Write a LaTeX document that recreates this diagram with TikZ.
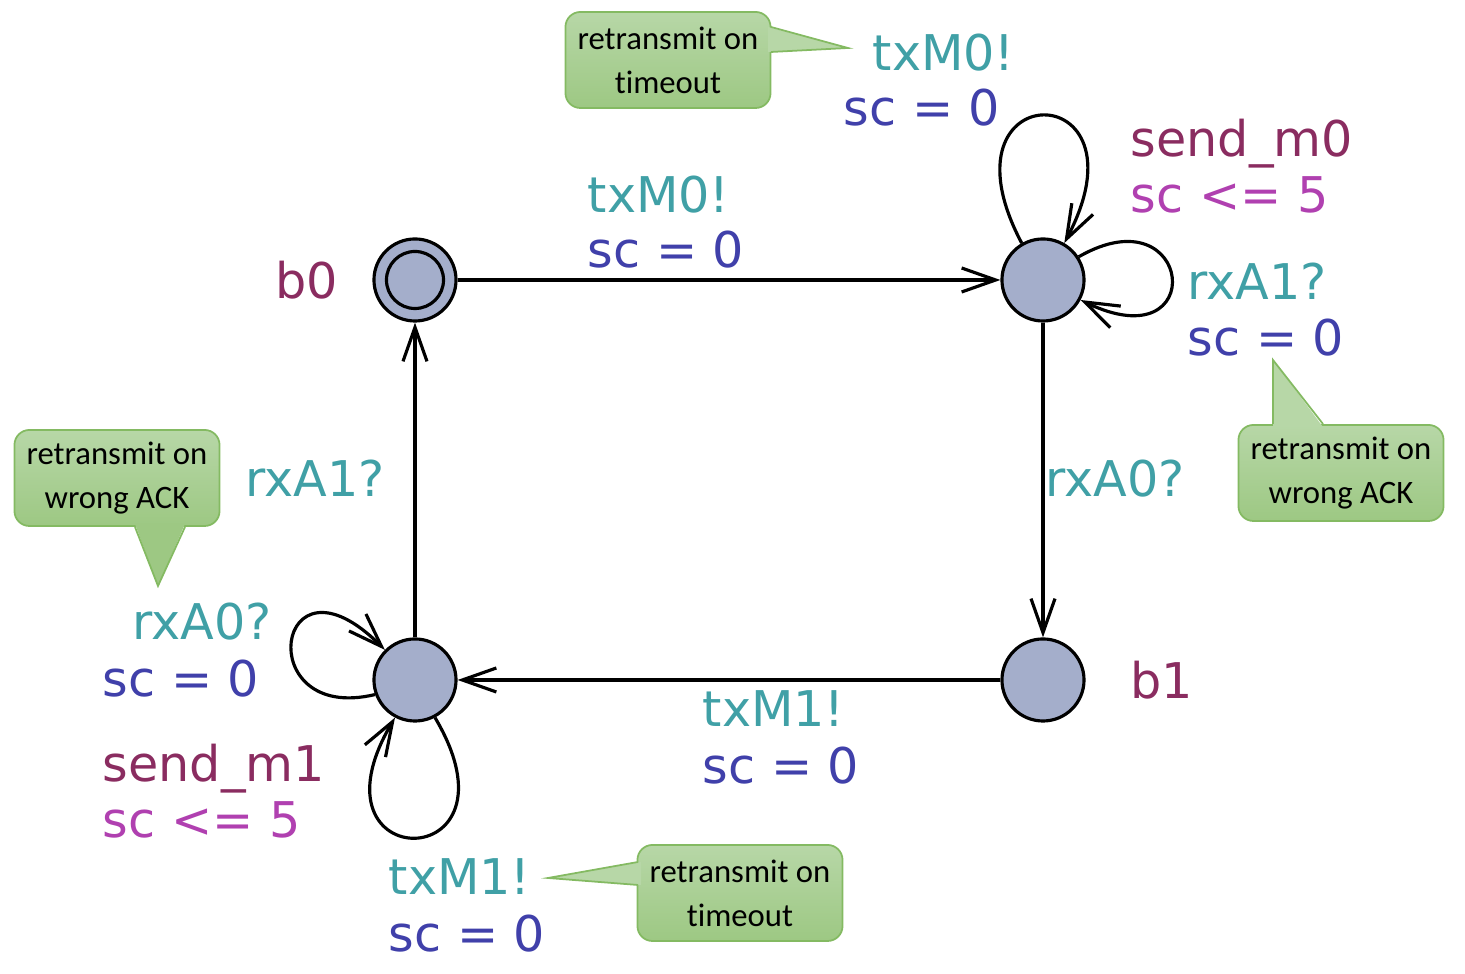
\documentclass[tikz,border=0pt]{standalone}
\usepackage{fontspec}
\setmainfont{DejaVu Sans}
\newfontfamily\notefont[Ligatures=NoCommon]{Carlito}
\usetikzlibrary{positioning,calc}
\usetikzlibrary{arrows.meta,arrows}
\definecolor{locfill}{RGB}{164,174,203}
\definecolor{syncclr}{RGB}{64,160,166}
\definecolor{assignclr}{RGB}{64,64,170}
\definecolor{nameclr}{RGB}{138,44,96}
\definecolor{invclr}{RGB}{176,64,176}
\definecolor{notetop}{RGB}{183,215,167}
\definecolor{notebot}{RGB}{157,200,131}
\definecolor{noteline}{RGB}{132,186,98}
\tikzset{%
  % Specifications for style of nodes:
    >={Straight Barb[length=3.4mm,width=2.4mm]},
    loc/.style={circle, draw, line width=0.9pt, fill=locfill, minimum size=8.2mm, inner sep=0},
    edge/.style={->, line width=0.9pt},
    lbl/.style={font=\fontsize{14}{16}\selectfont, inner sep=0, anchor=base west},
    sync/.style={lbl, text=syncclr},
    assign/.style={lbl, text=assignclr},
    locname/.style={lbl, text=nameclr},
    inv/.style={lbl, text=invclr},
    note/.style={rounded corners=1.5mm, draw=noteline, line width=0.5pt, top color=notetop, bottom color=notebot,
      minimum width=20.5mm, minimum height=9.6mm, inner sep=0, align=center,
      font=\notefont\fontsize{9.3}{12.5}\selectfont},
    notetip/.style={fill=notetop},
    noteedge/.style={draw=noteline, line width=0.5pt},
}
\begin{document}
\begin{tikzpicture}[x=0.01cm, y=-0.01cm]
    \useasboundingbox (0,0) rectangle (1465,974);
    % locations
    \node[loc] (b0) at (415,280) {};
    \node[loc] (waitA0) at (1043,280) {};
    \node[loc] (b1) at (1043,680) {};
    \node[loc] (waitA1) at (415,680) {};
    \draw[line width=0.9pt] (b0.center) circle[radius=2.85mm];
    % transitions
    \draw[edge] (b0) -- (waitA0);
    \draw[edge] (waitA0) -- (b1);
    \draw[edge] (b1) -- (waitA1);
    \draw[edge] (waitA1) -- (b0);
    \draw[edge] (waitA0.120) .. controls +(-90,-170) and +(90,-170) .. (waitA0.60);
    \draw[edge] (waitA0.33) .. controls +(115,-66) and +(130,63) .. (waitA0.-28);
    \draw[edge] (waitA1.200) .. controls +(-125,30) and +(-110,-110) .. (waitA1.135);
    \draw[edge] (waitA1.-62) .. controls +(95,160) and +(-95,160) .. (waitA1.-118);
    % labels
    \node[locname] (b0name) at (275,299) {b0};
    \node[locname] (b1name) at (1130,699) {b1};
    \node[sync] (txMa) at (587,213) {txM0!};
    \node[assign] (scA) at (587,268) {sc = 0};
    \node[sync] (txMb) at (872,71) {txM0!};
    \node[assign] (scB) at (843,126) {sc = 0};
    \node[locname] (sendM0) at (1130,157) {send\_m0};
    \node[inv] (invA0) at (1130,213) {sc <= 5};
    \node[sync] (rxAa) at (1187,300) {rxA1?};
    \node[assign] (scC) at (1187,356) {sc = 0};
    \node[sync] (rxAb) at (1045,497) {rxA0?};
    \node[sync] (rxAc) at (245,497) {rxA1?};
    \node[sync] (rxAd) at (132,640) {rxA0?};
    \node[assign] (scD) at (102,697) {sc = 0};
    \node[locname] (sendM1) at (102,782) {send\_m1};
    \node[inv] (invA1) at (102,838) {sc <= 5};
    \node[sync] (txMc) at (702,727) {txM1!};
    \node[assign] (scE) at (702,784) {sc = 0};
    \node[sync] (txMd) at (388,895) {txM1!};
    \node[assign] (scF) at (388,952) {sc = 0};
    % comments
    \node[note] (noteTimeout0) at (668,60) {retransmit on\\timeout};
    \coordinate (tipTimeout0) at (848,48);
    \fill[notetip] (768,27) -- (tipTimeout0) -- (768,52) -- cycle;
    \draw[noteedge] (771,27) -- (tipTimeout0) -- (771,52);
    \node[note] (noteAck0) at (1341,473) {retransmit on\\wrong ACK};
    \coordinate (tipAck0) at (1273,360);
    \fill[notetip] (1273,427) -- (tipAck0) -- (1323,427) -- cycle;
    \draw[noteedge] (1273,424) -- (tipAck0) -- (1323,424);
    \node[note] (noteAck1) at (117,478) {retransmit on\\wrong ACK};
    \coordinate (tipAck1) at (158,586);
    \fill[notebot] (135,524) -- (tipAck1) -- (185,524) -- cycle;
    \draw[noteedge] (135,527) -- (tipAck1) -- (185,527);
    \node[note] (noteTimeout1) at (740,893) {retransmit on\\timeout};
    \coordinate (tipTimeout1) at (548,878);
    \fill[notetip] (641,862) -- (tipTimeout1) -- (641,885) -- cycle;
    \draw[noteedge] (638,862) -- (tipTimeout1) -- (638,885);
\end{tikzpicture}
\end{document}
